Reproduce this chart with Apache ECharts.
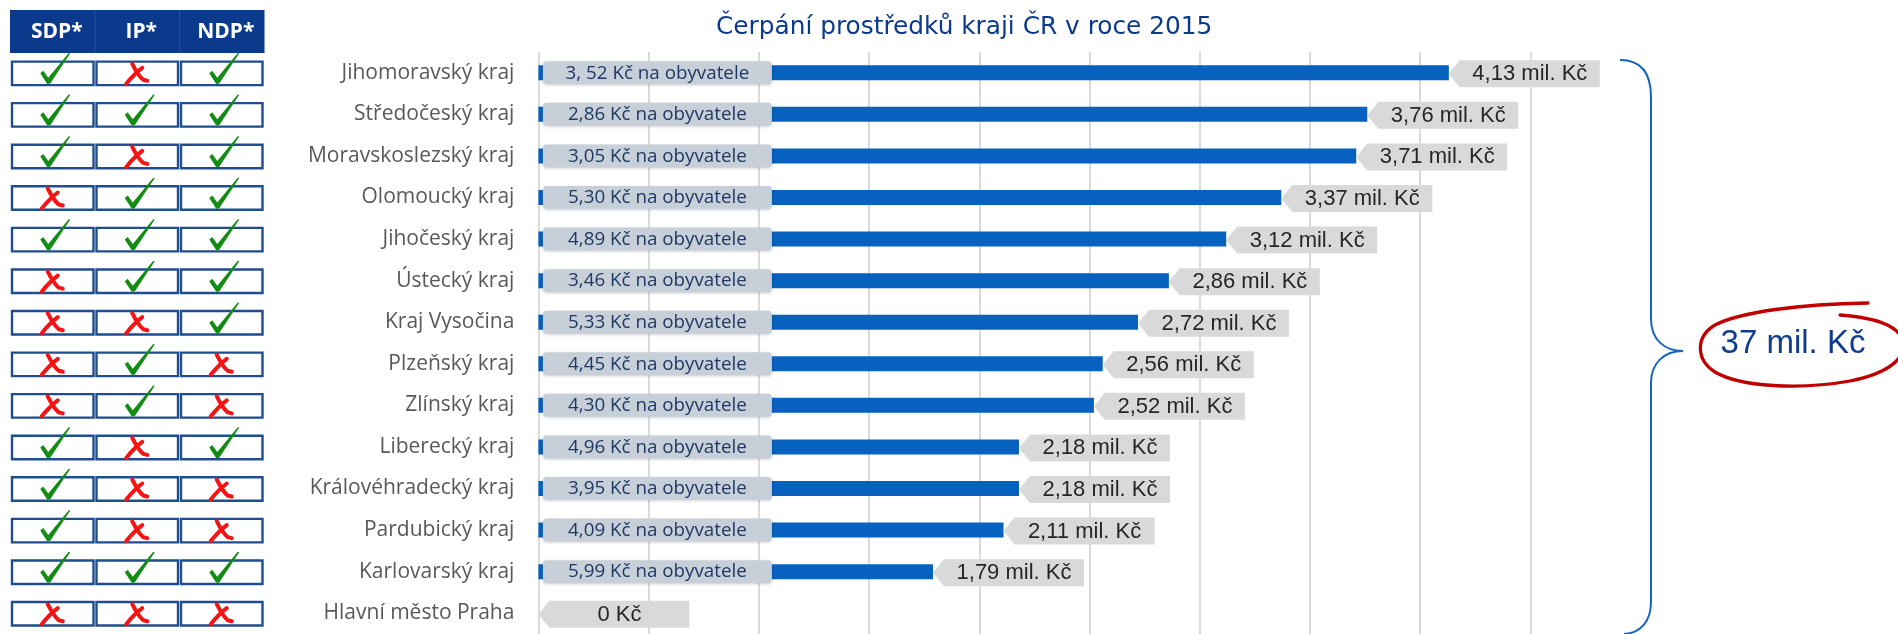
<!DOCTYPE html>
<html><head><meta charset="utf-8">
<script src="https://cdn.jsdelivr.net/npm/echarts@6/dist/echarts.min.js"></script>
<style>html,body{margin:0;padding:0;background:#fff}#c{width:1898px;height:634px}</style>
</head><body><div id="c"></div>
<script>
// ---- data ----
const titleText = 'Čerpání prostředků kraji ČR v roce 2015';
const regions = ['Jihomoravský kraj','Středočeský kraj','Moravskoslezský kraj','Olomoucký kraj','Jihočeský kraj','Ústecký kraj','Kraj Vysočina','Plzeňský kraj','Zlínský kraj','Liberecký kraj','Královéhradecký kraj','Pardubický kraj','Karlovarský kraj','Hlavní město Praha'];
const totals = [4.13, 3.76, 3.71, 3.37, 3.12, 2.86, 2.72, 2.56, 2.52, 2.18, 2.18, 2.11, 1.79, 0];
const perCapita = ['3, 52','2,86','3,05','5,30','4,89','3,46','5,33','4,45','4,30','4,96','3,95','4,09','5,99', null];
const columns = ['SDP*','IP*','NDP*'];
const sdp = [1,1,1,0,1,0,0,0,0,1,1,1,1,0];
const ip  = [0,1,0,1,1,1,0,1,1,0,0,0,1,0];
const ndp = [1,1,1,1,1,1,1,0,0,1,0,0,1,0];
const xMax = 4.5, xInterval = 0.5;
const sumText = '37 mil. Kč';

// ---- derived ----
const flags = [sdp, ip, ndp];
const cells = [];
flags.forEach((arr, c) => arr.forEach((v, r) => cells.push([c, r, v])));
const innerRows = [];
perCapita.forEach((t, i) => { if (t !== null) innerRows.push({ value: [0, i], text: t + ' Kč na obyvatele' }); });
const fmtTotal = v => v === 0 ? '0 Kč' : v.toFixed(2).replace('.', ',') + ' mil. Kč';

const chart = echarts.init(document.getElementById('c'));

function renderCell(params, api) {
  const col = api.value(0), row = api.value(1), ok = api.value(2);
  const c = api.coord([col, row]);
  const s = api.size([1, 1]);
  const cx = c[0], cy = c[1];
  const children = [];
  children.push({ type: 'rect', shape: { x: cx - s[0] / 2 + 1.5, y: cy - 11.2, width: s[0] - 3, height: 23.5 },
    style: { fill: '#fff', stroke: '#1F4E8F', lineWidth: 2.4 } });
  if (ok) {
    const pts = [[-12.5, 0.5], [-9.5, -2], [-4.5, 5], [16, -19.8], [17.5, -19.5], [-2.5, 10.8], [-5.5, 11.2]]
      .map(p => [cx + p[0], cy + p[1]]);
    children.push({ type: 'polygon', shape: { points: pts }, style: { fill: '#138C13' } });
  } else {
    children.push({ type: 'path', shape: { pathData:
      'M' + (cx - 5) + ' ' + (cy - 9) + ' Q' + (cx + 1) + ' ' + (cy + 3) + ' ' + (cx + 6) + ' ' + (cy + 7) + ' L' + (cx + 10) + ' ' + (cy + 8) },
      style: { fill: 'none', stroke: '#F41414', lineWidth: 4, lineCap: 'round', lineJoin: 'round' } });
    children.push({ type: 'path', shape: { pathData:
      'M' + (cx - 11) + ' ' + (cy + 11) + ' Q' + (cx - 3) + ' ' + (cy + 1) + ' ' + (cx + 5) + ' ' + (cy - 5) },
      style: { fill: 'none', stroke: '#F41414', lineWidth: 4, lineCap: 'round' } });
  }
  if (row === 0) {
    const top = 10, bottom = cy - s[1] / 2 + 1;
    children.push({ type: 'rect', shape: { x: cx - s[0] / 2 - 0.5, y: top, width: s[0] + 1, height: bottom - top },
      style: { fill: '#0B3A8C' } });
    if (col > 0) children.push({ type: 'rect', shape: { x: cx - s[0] / 2 - 0.5, y: top, width: 1, height: bottom - top },
      style: { fill: 'rgba(255,255,255,0.12)' } });
    children.push({ type: 'text', style: { x: cx + 4, y: (top + bottom) / 2 + 0.5, text: columns[col],
      fill: '#fff', font: 'bold 21px "Open Sans"', align: 'center', verticalAlign: 'middle' } });
  }
  return { type: 'group', children };
}

function renderInner(params, api) {
  const p = api.coord([api.value(0), api.value(1)]);
  const x0 = p[0] + 4.5, cy = p[1];
  return { type: 'group', children: [
    { type: 'rect', shape: { x: x0, y: cy - 11.5, width: 229, height: 23, r: 4 },
      style: { fill: '#C7CFD8', shadowBlur: 3, shadowColor: 'rgba(0,0,0,0.18)', shadowOffsetY: 1 } },
    { type: 'text', style: { x: x0 + 114.5, y: cy + 0.5, text: innerRows[params.dataIndex].text,
      fill: '#1F3864', font: '18.8px "Open Sans"', align: 'center', verticalAlign: 'middle' } }
  ] };
}

function renderTotal(params, api) {
  const v = api.value(0);
  const p = api.coord([v, api.value(1)]);
  const x = p[0], cy = p[1];
  const pts = [[x, cy + 1], [x + 11, cy - 12.5], [x + 151, cy - 12.5], [x + 151, cy + 14.5], [x + 11, cy + 14.5]];
  return { type: 'group', children: [
    { type: 'polygon', shape: { points: pts }, style: { fill: '#D9D9D9' } },
    { type: 'text', style: { x: x + 81, y: cy + 1.5, text: fmtTotal(v), fill: '#262626',
      font: '22px "Liberation Sans"', align: 'center', verticalAlign: 'middle' } }
  ] };
}

function renderAnnotation() {
  return { type: 'group', children: [
    { type: 'path', shape: { pathData:
      'M1620 60 C1640 60 1651 72 1651 97 L1651 319 C1651 340 1665 351 1683 351 C1665 351 1651 362 1651 383 L1651 602 C1651 622 1640 633 1624 634' },
      style: { fill: 'none', stroke: '#1565C0', lineWidth: 2 } },
    { type: 'path', shape: { pathData:
      'M1868 303 C1800 304 1740 312 1715 325 C1695 337 1696 360 1715 372 C1740 387 1800 390 1850 381 C1890 373 1905 358 1903 343 C1901 327 1880 318 1840 315' },
      style: { fill: 'none', stroke: '#C00000', lineWidth: 3.3, lineCap: 'round' } },
    { type: 'text', style: { x: 1793, y: 344, text: sumText, fill: '#0F3C8E',
      font: '33px "Liberation Sans"', align: 'center', verticalAlign: 'middle' } }
  ] };
}

chart.setOption({
  animation: false,
  backgroundColor: '#fff',
  title: { text: titleText, left: 711, top: 10,
    textStyle: { color: '#0B3A8C', fontFamily: 'DejaVu Sans', fontSize: 24.8, fontWeight: 'normal' } },
  grid: [
    { left: 538.4, right: 367.6, top: 52, bottom: -3 },
    { left: 10.5, width: 253.5, top: 52, bottom: -3 }
  ],
  xAxis: [
    { type: 'value', gridIndex: 0, min: 0, max: xMax, interval: xInterval,
      axisLabel: { show: false }, axisLine: { show: false }, axisTick: { show: false },
      splitLine: { show: true, lineStyle: { color: '#DADADA', width: 2 } } },
    { type: 'category', gridIndex: 1, data: columns, position: 'top',
      axisLabel: { show: false }, axisLine: { show: false }, axisTick: { show: false }, splitLine: { show: false } }
  ],
  yAxis: [
    { type: 'category', gridIndex: 0, data: regions, inverse: true,
      axisLine: { show: false }, axisTick: { show: false },
      axisLabel: { color: '#595959', fontFamily: 'Open Sans', fontSize: 21, margin: 24 } },
    { type: 'category', gridIndex: 1, data: regions, inverse: true, show: false }
  ],
  series: [
    { type: 'bar', xAxisIndex: 0, yAxisIndex: 0, data: totals, barWidth: 15,
      itemStyle: { color: '#0761BF' }, z: 2, silent: true },
    { type: 'custom', xAxisIndex: 0, yAxisIndex: 0, data: innerRows.map(d => d.value),
      renderItem: renderInner, z: 3, silent: true },
    { type: 'custom', xAxisIndex: 0, yAxisIndex: 0, data: totals.map((v, i) => [v, i]),
      renderItem: renderTotal, z: 3, silent: true },
    { type: 'custom', xAxisIndex: 1, yAxisIndex: 1, data: cells,
      renderItem: renderCell, z: 3, silent: true },
    { type: 'custom', coordinateSystem: 'none', data: [[0]],
      renderItem: renderAnnotation, z: 3, silent: true }
  ]
});
</script></body></html>
